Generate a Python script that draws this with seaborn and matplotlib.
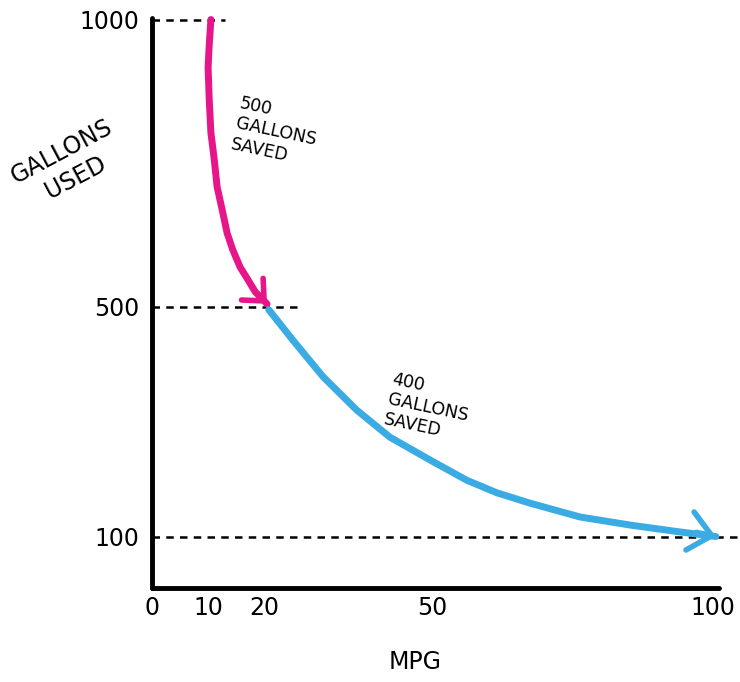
import matplotlib
matplotlib.use("Agg")
import matplotlib.pyplot as plt
import seaborn as sns
import pandas as pd

# ---- data ----
pink_mpg = [10.5, 10.2, 10.0, 10.2, 10.5, 11.1, 11.6, 12.5, 13.4, 14.4, 15.7, 17.1, 18.4, 20.5]
pink_gal = [1000, 956, 917, 860, 803, 756, 709, 669, 628, 599, 569, 547, 526, 505]
blue_mpg = [20.8, 25.1, 30.5, 36.5, 42.4, 49.6, 56.1, 61.5, 67.4, 76.3, 85.2, 94.1, 100.5]
blue_gal = [495, 442, 378, 320, 273, 233, 198, 176, 158, 134, 120, 108, 100]

x_ticks = [0, 10, 20, 50, 100]
y_ticks = [100, 500, 1000]
ref_levels = [1000, 500, 100]
ref_ends = [13, 26.5, 105]

pink_note = "500\nGALLONS\nSAVED"
blue_note = "400\nGALLONS\nSAVED"

PINK = "#E6168A"
BLUE = "#3AACE3"

sns.set_theme(style="white")
plt.rcParams["font.family"] = ["DejaVu Sans"]
plt.rcParams["text.color"] = "black"

fig = plt.figure(figsize=(7.4, 6.82), dpi=100)
ax = fig.add_axes([152 / 740, (682 - 588) / 682, 588 / 740, 588 / 682])

pink_df = pd.DataFrame({"mpg": pink_mpg, "gal": pink_gal})
blue_df = pd.DataFrame({"mpg": blue_mpg, "gal": blue_gal})

sns.lineplot(data=pink_df, x="mpg", y="gal", ax=ax, color=PINK, lw=5,
             sort=False, estimator=None, zorder=4,
             solid_joinstyle="round", solid_capstyle="round")
sns.lineplot(data=blue_df, x="mpg", y="gal", ax=ax, color=BLUE, lw=5,
             sort=False, estimator=None, zorder=4,
             solid_joinstyle="round", solid_capstyle="round")

heads = [
    (pink_df, PINK, (-9, 9), "->,head_length=0.6,head_width=0.55"),
    (blue_df, BLUE, (-14, 3), "->,head_length=0.8,head_width=0.7"),
]
for df, c, off, style in heads:
    ax.annotate("", xy=(df.mpg.iloc[-1], df.gal.iloc[-1]),
                xytext=off, textcoords="offset points",
                arrowprops=dict(arrowstyle=style, color=c, lw=4,
                                mutation_scale=20, shrinkA=0, shrinkB=0,
                                capstyle="round", joinstyle="round"),
                zorder=5, annotation_clip=False)

# dashed reference lines
for lvl, end in zip(ref_levels, ref_ends):
    ax.plot([0, end], [lvl, lvl], color="black", lw=1.8,
            dashes=(3, 2.5), zorder=3, clip_on=False)

ax.set_xlim(0, 104.8)
ax.set_ylim(10.4, 1034)

for s in ("top", "right"):
    ax.spines[s].set_visible(False)
for s in ("left", "bottom"):
    ax.spines[s].set_color("black")
    ax.spines[s].set_linewidth(3.5)
    ax.spines[s].set_capstyle("round")
ax.spines["left"].set_bounds(10.4, 1003)
ax.spines["bottom"].set_bounds(0, 101)

ax.set_xticks(x_ticks)
ax.set_xticklabels([str(v) for v in x_ticks], fontsize=17)
ax.set_yticks(y_ticks)
ax.set_yticklabels([str(v) for v in y_ticks], fontsize=17)
ax.tick_params(axis="both", length=0, colors="black")
ax.tick_params(axis="y", pad=9)
ax.tick_params(axis="x", pad=6)

ax.set_xlabel("MPG", fontsize=17, color="black")
ax.xaxis.set_label_coords(0.447, -0.105)
ax.set_ylabel("GALLONS\nUSED", fontsize=17, rotation=28, color="black",
              ha="center", va="center", linespacing=1.3)
ax.yaxis.set_label_coords(-0.142, 0.72)

ax.text(13.8, 870, pink_note, fontsize=12.5, rotation=-12, ha="left",
        va="top", linespacing=1.2, color="black")
ax.text(41, 390, blue_note, fontsize=12.5, rotation=-12, ha="left",
        va="top", linespacing=1.2, color="black")

fig.savefig("out.png", dpi=100)
